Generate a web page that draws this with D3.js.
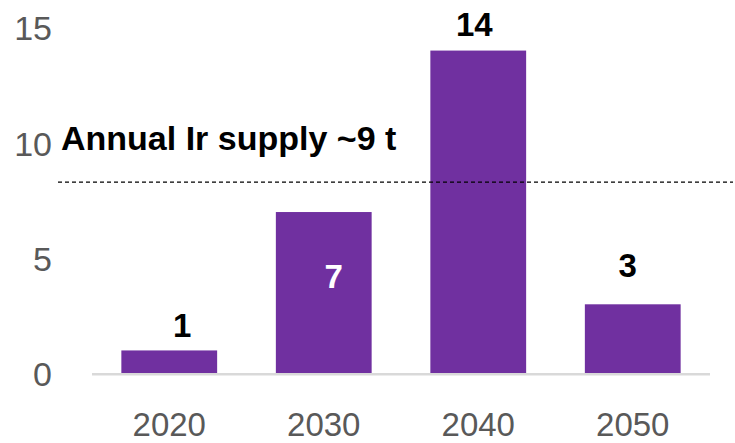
<!DOCTYPE html>
<html>
<head>
<meta charset="utf-8">
<script src="https://cdn.jsdelivr.net/npm/d3@7"></script>
<style>
  html, body { margin: 0; padding: 0; background: #fff; }
  svg { display: block; }
</style>
</head>
<body>
<svg id="chart" width="735" height="443"></svg>
<script>
// Iridium demand by decade (t) against annual supply
const years = ["2020", "2030", "2040", "2050"];
const demand = [1, 7, 14, 3];
const yTicks = [0, 5, 10, 15];
const supply = 8.3;
const supplyLabel = "Annual Ir supply ~9 t";

const svg = d3.select("#chart");
const FONT = "'Liberation Sans', Arial, sans-serif";

const x = d3.scaleBand()
  .domain(years)
  .range([92, 710])
  .paddingInner(0.38)
  .paddingOuter(0.19);

const y = d3.scaleLinear()
  .domain([0, 15])
  .range([373.5, 27.5]);

// y-axis tick labels (no line, no tick marks)
const yAxis = svg.append("g")
  .attr("transform", "translate(52,0)")
  .call(d3.axisLeft(y).tickValues(yTicks).tickSize(0).tickPadding(0));
yAxis.select(".domain").remove();
yAxis.selectAll("text")
  .attr("fill", "#595959")
  .attr("font-family", FONT)
  .attr("font-size", 34)
  .attr("dy", "0.36em");

// bars
svg.append("g").selectAll("rect")
  .data(years.map((yr, i) => ({ yr, v: demand[i] })))
  .join("rect")
  .attr("x", d => x(d.yr))
  .attr("width", x.bandwidth())
  .attr("y", d => y(d.v))
  .attr("height", d => y(0) - y(d.v))
  .attr("fill", "#7030A0");

// baseline
svg.append("line")
  .attr("x1", 92).attr("x2", 710)
  .attr("y1", y(0) + 0.7).attr("y2", y(0) + 0.7)
  .attr("stroke", "#d9d9d9")
  .attr("stroke-width", 2.5);

// x-axis labels
const xAxis = svg.append("g")
  .attr("transform", `translate(0,${y(0)})`)
  .call(d3.axisBottom(x).tickSize(0).tickPadding(0));
xAxis.select(".domain").remove();
xAxis.selectAll("text")
  .attr("fill", "#595959")
  .attr("font-family", FONT)
  .attr("font-size", 33)
  .attr("dy", null)
  .attr("y", 62.5);

// supply reference line
svg.append("line")
  .attr("x1", 58).attr("x2", 733)
  .attr("y1", y(supply)).attr("y2", y(supply))
  .attr("stroke", "#000")
  .attr("stroke-width", 1.2)
  .attr("stroke-dasharray", "4,3");

svg.append("text")
  .attr("x", 61)
  .attr("y", 150)
  .attr("font-family", FONT)
  .attr("font-weight", "bold")
  .attr("font-size", 34)
  .attr("fill", "#000")
  .text(supplyLabel);

// value labels, hand-placed around each bar
const labelPlacement = {
  "2020": { dx: 13, dy: -13, inside: false },
  "2030": { dx: 10, dy: 76, inside: true },
  "2040": { dx: -4, dy: -15, inside: false },
  "2050": { dx: -5, dy: -27, inside: false }
};
svg.append("g").selectAll("text")
  .data(years.map((yr, i) => ({ yr, v: demand[i] })))
  .join("text")
  .attr("x", d => x(d.yr) + x.bandwidth() / 2 + labelPlacement[d.yr].dx)
  .attr("y", d => y(d.v) + labelPlacement[d.yr].dy)
  .attr("text-anchor", "middle")
  .attr("font-family", FONT)
  .attr("font-weight", "bold")
  .attr("font-size", 33)
  .attr("fill", d => labelPlacement[d.yr].inside ? "#fff" : "#000")
  .text(d => d.v);
</script>
</body>
</html>
